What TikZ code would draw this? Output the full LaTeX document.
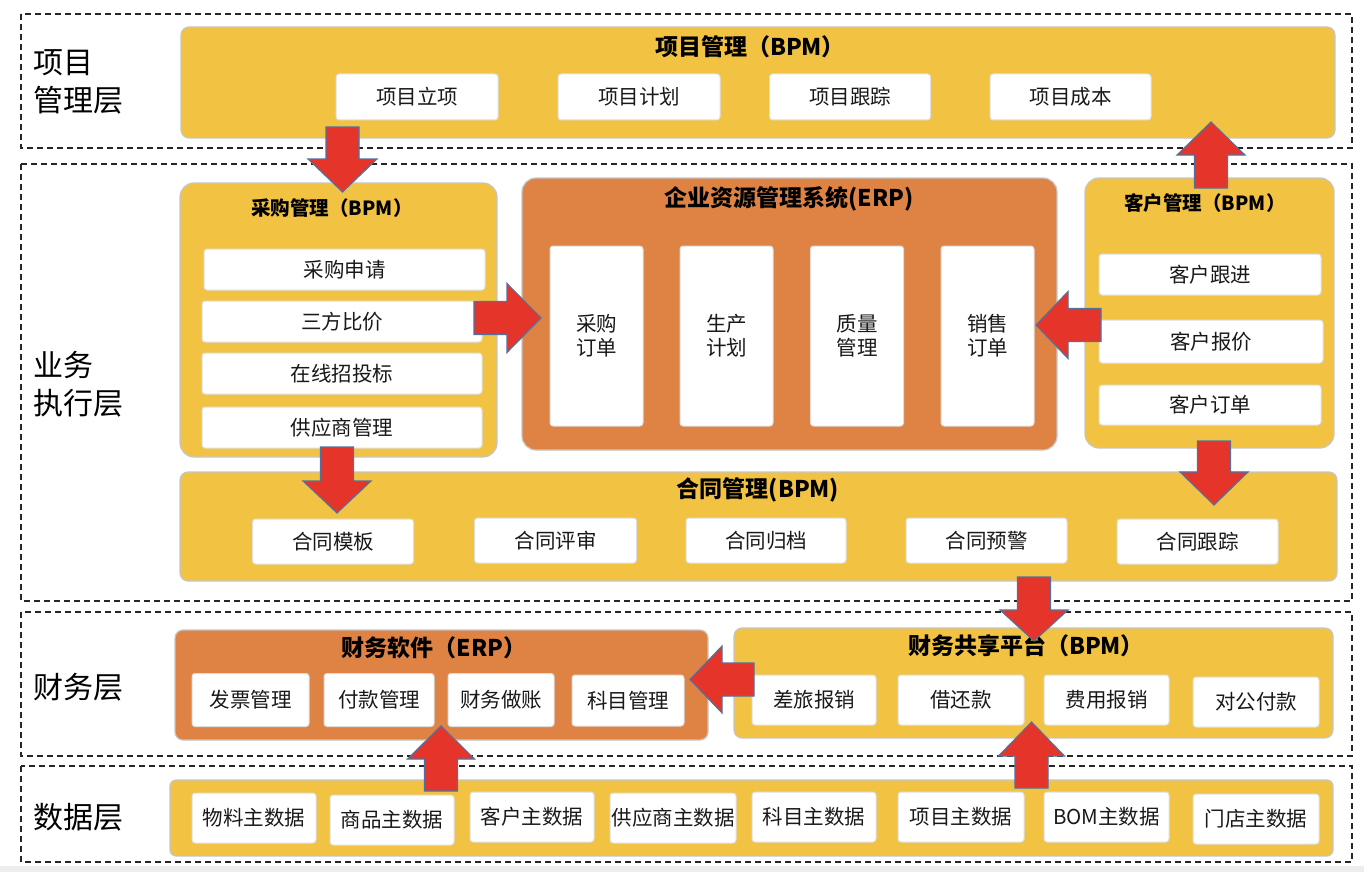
\documentclass[tikz,border=0pt]{standalone}
\usepackage{fontspec}
\setmainfont{Noto Sans CJK SC}
\usetikzlibrary{calc}
\definecolor{ylw}{HTML}{F2C343}
\definecolor{org}{HTML}{DF8344}
\definecolor{arrred}{HTML}{E5352A}
\definecolor{arrblue}{HTML}{52719E}
\definecolor{bordergray}{HTML}{C6C6C6}
\definecolor{itemgray}{HTML}{DDDDDD}
\definecolor{stripgray}{HTML}{EDEDED}
\tikzset{
  layerbox/.style={draw=black!85, dash pattern=on 6pt off 4pt, line width=1.4pt},
  ybox/.style={fill=ylw, draw=bordergray, line width=1.2pt, rounded corners=10pt, inner sep=0pt},
  obox/.style={fill=org, draw=bordergray, line width=1.2pt, rounded corners=12pt, inner sep=0pt},
  item/.style={fill=white, draw=itemgray, line width=1pt, rounded corners=3pt, inner sep=0pt,
    font=\fontsize{20.5}{24}\selectfont, align=center, text=black!90},
  bigtitle/.style={font=\bfseries\fontsize{23}{26}\selectfont, inner sep=0pt},
  smalltitle/.style={font=\bfseries\fontsize{19.5}{22}\selectfont, inner sep=0pt},
  layerlabel/.style={font=\fontsize{30}{38}\selectfont, align=left, anchor=west, inner sep=0pt},
  blockarrow/.style={fill=arrred, draw=arrblue, line width=1.1pt, line join=miter}
}
\newcommand\varrow[5]{% x, tail, base, tip, head half width
  \draw[blockarrow] ({#1-16.5},#2) -- ({#1-16.5},#3) -- ({#1-#5},#3) -- (#1,#4)
    -- ({#1+#5},#3) -- ({#1+16.5},#3) -- ({#1+16.5},#2) -- cycle;}
\newcommand\harrow[5]{% y, tail, base, tip, head half width
  \draw[blockarrow] (#2,{#1-16.5}) -- (#3,{#1-16.5}) -- (#3,{#1-#5}) -- (#4,#1)
    -- (#3,{#1+#5}) -- (#3,{#1+16.5}) -- (#2,{#1+16.5}) -- cycle;}
\begin{document}
\begin{tikzpicture}[x=1pt,y=-1pt]
\useasboundingbox (0,0) rectangle (1364,872);
\fill[white] (0,0) rectangle (1364,872);
\fill[stripgray] (0,866) rectangle (1364,872);

% layers
\draw[layerbox] (21,14) rectangle (1352,148);
\draw[layerbox] (21,164) rectangle (1352,601);
\draw[layerbox] (21,612) rectangle (1352,756);
\draw[layerbox] (21,766) rectangle (1352,862);

\node[layerlabel] (L1) at (33,82) {项目\\管理层};
\node[layerlabel] (L2) at (33,384) {业务\\执行层};
\node[layerlabel] (L3) at (33,687) {财务层};
\node[layerlabel] (L4) at (33,817) {数据层};

% project management
\node[ybox, rounded corners=8pt, minimum width=1154pt, minimum height=111pt] (pm) at (758,82.5) {};
\node[bigtitle] (pmt) at (750,47) {项目管理（BPM）};
\node[item, minimum width=162pt, minimum height=46pt] (p1) at (417,97) {项目立项};
\node[item, minimum width=162pt, minimum height=46pt] (p2) at (639,97) {项目计划};
\node[item, minimum width=161pt, minimum height=46pt] (p3) at (850,97) {项目跟踪};
\node[item, minimum width=161pt, minimum height=46pt] (p4) at (1070.5,97) {项目成本};

% purchasing
\node[ybox, rounded corners=14pt, minimum width=317pt, minimum height=274pt] (pu) at (338.5,320) {};
\node[smalltitle] (put) at (332,208) {采购管理（BPM）};
\node[item, minimum width=281pt, minimum height=41pt] (pu1) at (344.5,269.5) {采购申请};
\node[item, minimum width=280pt, minimum height=41pt] (pu2) at (342,321.5) {三方比价};
\node[item, minimum width=280pt, minimum height=41pt] (pu3) at (342,373.5) {在线招投标};
\node[item, minimum width=280pt, minimum height=41pt] (pu4) at (342,427.5) {供应商管理};

% ERP
\node[obox, rounded corners=14pt, minimum width=535pt, minimum height=272pt] (erp) at (789.5,314) {};
\node[bigtitle] (erpt) at (789,199) {企业资源管理系统(ERP)};
\node[item, minimum width=93pt, minimum height=180pt] (e1) at (596.5,336) {采购\\订单};
\node[item, minimum width=93pt, minimum height=180pt] (e2) at (726.5,336) {生产\\计划};
\node[item, minimum width=93pt, minimum height=180pt] (e3) at (857,336) {质量\\管理};
\node[item, minimum width=93pt, minimum height=180pt] (e4) at (987.5,336) {销售\\订单};

% customer
\node[ybox, rounded corners=14pt, minimum width=249pt, minimum height=270pt] (cu) at (1209.5,313) {};
\node[smalltitle] (cut) at (1205,203) {客户管理（BPM）};
\node[item, minimum width=222pt, minimum height=41pt] (c1) at (1210,274.5) {客户跟进};
\node[item, minimum width=224pt, minimum height=43pt] (c2) at (1211,341.5) {客户报价};
\node[item, minimum width=222pt, minimum height=40pt] (c3) at (1210,405) {客户订单};

% contract
\node[ybox, rounded corners=8pt, minimum width=1157pt, minimum height=109pt] (ct) at (758.5,526.5) {};
\node[bigtitle] (ctt) at (758,490) {合同管理(BPM)};
\node[item, minimum width=161pt, minimum height=45pt] (ct1) at (333,541.5) {合同模板};
\node[item, minimum width=162pt, minimum height=45pt] (ct2) at (555.5,540.5) {合同评审};
\node[item, minimum width=160pt, minimum height=45pt] (ct3) at (766,540.5) {合同归档};
\node[item, minimum width=161pt, minimum height=45pt] (ct4) at (986.5,540.5) {合同预警};
\node[item, minimum width=161pt, minimum height=45pt] (ct5) at (1197.5,541.5) {合同跟踪};

% finance software
\node[obox, rounded corners=8pt, minimum width=533pt, minimum height=110pt] (fs) at (441.5,685) {};
\node[bigtitle] (fst) at (434,648) {财务软件（ERP）};
\node[item, minimum width=117pt, minimum height=53pt] (f1) at (250.5,700) {发票管理};
\node[item, minimum width=110pt, minimum height=53pt] (f2) at (379,700) {付款管理};
\node[item, minimum width=106pt, minimum height=53pt] (f3) at (501,700) {财务做账};
\node[item, minimum width=112pt, minimum height=51pt] (f4) at (628,700.5) {科目管理};

% finance sharing platform
\node[ybox, rounded corners=8pt, minimum width=599pt, minimum height=110pt] (sh) at (1033.5,683) {};
\node[bigtitle] (sht) at (1026,646) {财务共享平台（BPM）};
\node[item, minimum width=124pt, minimum height=50pt] (s1) at (814,700) {差旅报销};
\node[item, minimum width=126pt, minimum height=50pt] (s2) at (961,700) {借还款};
\node[item, minimum width=125pt, minimum height=50pt] (s3) at (1106.5,700) {费用报销};
\node[item, minimum width=126pt, minimum height=50pt] (s4) at (1256,702) {对公付款};

% data
\node[ybox, rounded corners=6pt, minimum width=1163pt, minimum height=76pt] (da) at (751.5,818) {};
\node[item, minimum width=124pt, minimum height=50pt] (d1) at (254,818) {物料主数据};
\node[item, minimum width=124pt, minimum height=50pt] (d2) at (392,820) {商品主数据};
\node[item, minimum width=124pt, minimum height=50pt] (d3) at (532,817) {客户主数据};
\node[item, minimum width=126pt, minimum height=50pt] (d4) at (673,818) {供应商主数据};
\node[item, minimum width=124pt, minimum height=50pt] (d5) at (814,817) {科目主数据};
\node[item, minimum width=126pt, minimum height=50pt] (d6) at (961,817) {项目主数据};
\node[item, minimum width=125pt, minimum height=50pt] (d7) at (1106.5,817) {BOM主数据};
\node[item, minimum width=126pt, minimum height=50pt] (d8) at (1256,819) {门店主数据};

% block arrows
\varrow{342.5}{127}{159}{192}{34.5}   % project -> purchasing
\harrow{318}{474}{507}{541}{34.5}     % purchasing -> ERP
\harrow{325}{1101}{1068}{1036}{33.5}  % customer -> ERP
\varrow{1211}{188}{155}{122}{34}      % customer -> project
\varrow{337}{447}{481}{513}{34}       % purchasing -> contract
\varrow{1214}{441}{472}{505}{34}      % customer -> contract
\varrow{1034}{577}{610}{641}{34}      % contract -> sharing
\harrow{679.5}{754}{722}{690}{33.5}   % sharing -> finance software
\varrow{441}{791}{759}{726}{33.5}     % data -> finance software
\varrow{1031.5}{788}{756}{722}{33}    % data -> sharing
\end{tikzpicture}
\end{document}
